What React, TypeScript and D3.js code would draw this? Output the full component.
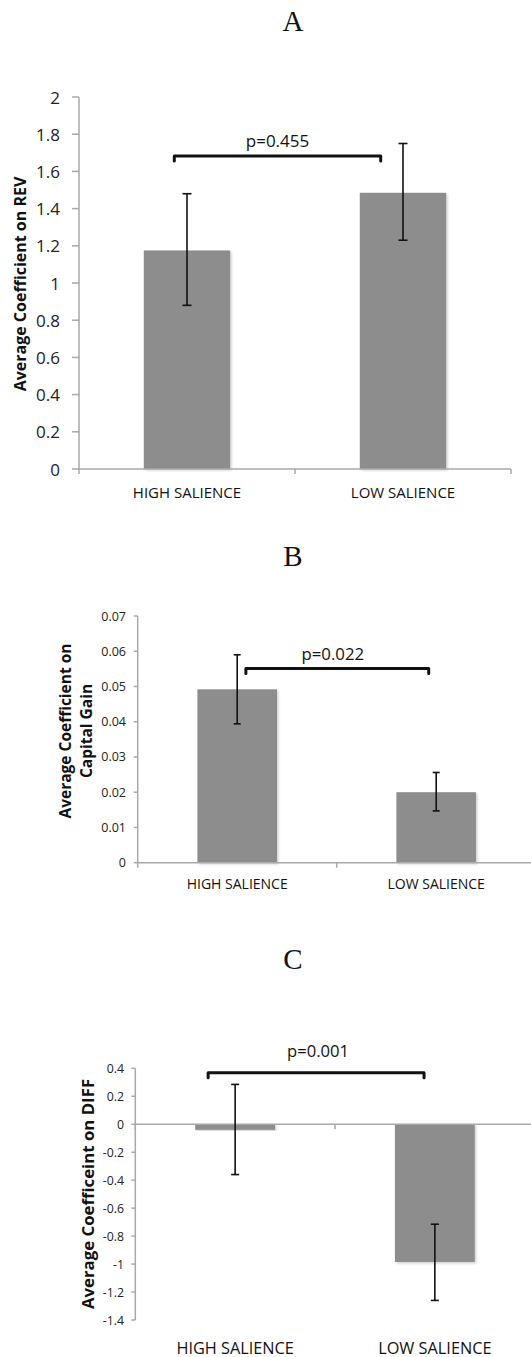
import * as d3 from 'd3';

// ── Data ──────────────────────────────────────────────────────────────────────
const CATEGORIES = ['HIGH SALIENCE', 'LOW SALIENCE'];

// Panel A: coefficient on REV
const REV_MEAN     = [1.175, 1.485];
const REV_ERR_LOW  = [0.88, 1.23];
const REV_ERR_HIGH = [1.48, 1.75];
const REV_TICKS    = [0, 0.2, 0.4, 0.6, 0.8, 1, 1.2, 1.4, 1.6, 1.8, 2];

// Panel B: coefficient on capital gain
const CG_MEAN      = [0.0492, 0.0200];
const CG_ERR_LOW   = [0.0394, 0.0147];
const CG_ERR_HIGH  = [0.0590, 0.0256];
const CG_TICKS     = [0, 0.01, 0.02, 0.03, 0.04, 0.05, 0.06, 0.07];

// Panel C: coefficient on DIFF
const DIFF_MEAN     = [-0.04, -0.985];
const DIFF_ERR_LOW  = [-0.36, -1.26];
const DIFF_ERR_HIGH = [0.285, -0.715];
const DIFF_TICKS    = [-1.4, -1.2, -1, -0.8, -0.6, -0.4, -0.2, 0, 0.2, 0.4];

const P_LABELS      = ['p=0.455', 'p=0.022', 'p=0.001'];
const BRACKET_LEVEL = [1.683, 0.0551, 0.369];

// ── Colors / fonts ────────────────────────────────────────────────────────────
const BAR   = '#8d8d8d';
const AXIS  = '#a9a9a9';
const INK   = '#111';
const SANS  = '"Open Sans", "DejaVu Sans", sans-serif';
const SERIF = '"Liberation Serif", "Times New Roman", serif';

const W = 531;
const H = 1357;

type PanelCfg = {
  title: string; titleY: number;
  mean: number[]; lo: number[]; hi: number[]; ticks: number[];
  yLabel: string[]; yLabelX: number[]; yLabelCY: number; yLabelSize: number;
  x0: number; x1: number; yTop: number; yBot: number;
  tickSize: number; tickLen: number; tickLabelX: number;
  catSize: number; catY: number;
  cap: number;
  p: string; pSize: number; pY: number; pDx: number;
  bracketLevel: number; bracketDx: [number, number];
};

const PANELS: PanelCfg[] = [
  {
    title: 'A', titleY: 30.5,
    mean: REV_MEAN, lo: REV_ERR_LOW, hi: REV_ERR_HIGH, ticks: REV_TICKS,
    yLabel: ['Average Coefficient on REV'], yLabelX: [25.5], yLabelCY: 284, yLabelSize: 16,
    x0: 79, x1: 511, yTop: 97, yBot: 469,
    tickSize: 17, tickLen: 7, tickLabelX: 60,
    catSize: 15, catY: 498,
    cap: 9,
    p: P_LABELS[0], pSize: 17, pY: 147, pDx: 0,
    bracketLevel: BRACKET_LEVEL[0], bracketDx: [-12.7, -22.3],
  },
  {
    title: 'B', titleY: 566,
    mean: CG_MEAN, lo: CG_ERR_LOW, hi: CG_ERR_HIGH, ticks: CG_TICKS,
    yLabel: ['Average Coefficient on', 'Capital Gain'], yLabelX: [71, 92], yLabelCY: 731, yLabelSize: 15.5,
    x0: 137.7, x1: 535.7, yTop: 616, yBot: 862.7,
    tickSize: 12.5, tickLen: 4, tickLabelX: 126,
    catSize: 14, catY: 889,
    cap: 7,
    p: P_LABELS[1], pSize: 16.8, pY: 660, pDx: -4.5,
    bracketLevel: BRACKET_LEVEL[1], bracketDx: [8.7, -7.5],
  },
  {
    title: 'C', titleY: 969,
    mean: DIFF_MEAN, lo: DIFF_ERR_LOW, hi: DIFF_ERR_HIGH, ticks: DIFF_TICKS,
    yLabel: ['Average Coefficeint on DIFF'], yLabelX: [93.5], yLabelCY: 1194, yLabelSize: 16.8,
    x0: 135.3, x1: 534.7, yTop: 1068.3, yBot: 1320,
    tickSize: 12.3, tickLen: 4, tickLabelX: 124,
    catSize: 16.3, catY: 1353.5,
    cap: 8,
    p: P_LABELS[2], pSize: 16.6, pY: 1057.3, pDx: 2,
    bracketLevel: BRACKET_LEVEL[2], bracketDx: [-27, -10.8],
  },
];

function Panel({ cfg }: { cfg: PanelCfg }) {
  const tMin = d3.min(cfg.ticks) as number;
  const tMax = d3.max(cfg.ticks) as number;
  const y = d3.scaleLinear().domain([tMin, tMax]).range([cfg.yBot, cfg.yTop]);
  const x = d3.scaleBand<string>().domain(CATEGORIES).range([cfg.x0, cfg.x1]).padding(0);
  const slot = x.bandwidth();
  const bw = slot * 0.4;
  const cx = (c: string) => (x(c) ?? 0) + slot / 2;
  const y0 = y(0);

  const bL = cx(CATEGORIES[0]) + cfg.bracketDx[0];
  const bR = cx(CATEGORIES[1]) + cfg.bracketDx[1];
  const bY = y(cfg.bracketLevel);

  return (
    <g>
      {/* Panel letter */}
      <text x={293} y={cfg.titleY} textAnchor="middle" fontFamily={SERIF} fontSize={29} fill={INK}>
        {cfg.title}
      </text>

      {/* Bars */}
      {CATEGORIES.map((c, i) => {
        const yv = y(cfg.mean[i]);
        return (
          <rect
            key={c}
            x={cx(c) - bw / 2} y={Math.min(yv, y0)}
            width={bw} height={Math.abs(yv - y0)}
            fill={BAR} filter="url(#barShadow)"
          />
        );
      })}

      {/* Y axis */}
      <line x1={cfg.x0} x2={cfg.x0} y1={y(tMax)} y2={y(tMin)} stroke={AXIS} strokeWidth={1.5} />
      {cfg.ticks.map(t => (
        <g key={t}>
          <line x1={cfg.x0 - cfg.tickLen} x2={cfg.x0} y1={y(t)} y2={y(t)} stroke={AXIS} strokeWidth={1.5} />
          <text
            x={cfg.tickLabelX} y={y(t)}
            textAnchor="end" dominantBaseline="central"
            fontFamily={SANS} fontSize={cfg.tickSize} fill="#222"
          >
            {String(t)}
          </text>
        </g>
      ))}

      {/* X axis at zero */}
      <line x1={cfg.x0} x2={cfg.x1} y1={y0} y2={y0} stroke={AXIS} strokeWidth={1.5} />
      {[cfg.x0, cfg.x0 + slot, cfg.x1].map((tx, i) => (
        <line key={i} x1={tx} x2={tx} y1={y0} y2={y0 + 5} stroke={AXIS} strokeWidth={1.5} />
      ))}

      {/* Category labels */}
      {CATEGORIES.map(c => (
        <text
          key={c} x={cx(c)} y={cfg.catY}
          textAnchor="middle" fontFamily={SANS} fontSize={cfg.catSize} fill="#111"
        >
          {c}
        </text>
      ))}

      {/* Error bars */}
      {CATEGORIES.map((c, i) => {
        const ex = cx(c);
        const yl = y(cfg.lo[i]);
        const yh = y(cfg.hi[i]);
        return (
          <g key={c} stroke={INK} strokeWidth={1.6}>
            <line x1={ex} x2={ex} y1={yh} y2={yl} />
            <line x1={ex - cfg.cap / 2} x2={ex + cfg.cap / 2} y1={yh} y2={yh} />
            <line x1={ex - cfg.cap / 2} x2={ex + cfg.cap / 2} y1={yl} y2={yl} />
          </g>
        );
      })}

      {/* Significance bracket */}
      <path
        d={`M${bL},${bY + 5} L${bL},${bY} L${bR},${bY} L${bR},${bY + 5}`}
        fill="none" stroke={INK} strokeWidth={3} strokeLinejoin="round" strokeLinecap="round"
      />
      <text
        x={(bL + bR) / 2 + cfg.pDx} y={cfg.pY}
        textAnchor="middle" fontFamily={SANS} fontSize={cfg.pSize} fill={INK}
      >
        {cfg.p}
      </text>

      {/* Y axis title */}
      {cfg.yLabel.map((line, i) => (
        <text
          key={i}
          transform={`translate(${cfg.yLabelX[i]},${cfg.yLabelCY}) rotate(-90)`}
          textAnchor="middle" fontFamily={SANS} fontWeight={700}
          fontSize={cfg.yLabelSize} fill={INK}
        >
          {line}
        </text>
      ))}
    </g>
  );
}

export default function App() {
  return (
    <svg
      width={W} height={H} viewBox={`0 0 ${W} ${H}`}
      style={{ position: 'absolute', left: 0, top: 0, display: 'block', background: '#fff' }}
    >
      <defs>
        <filter id="barShadow" x="-10%" y="-10%" width="130%" height="130%">
          <feDropShadow dx={1.5} dy={1.5} stdDeviation={1.2} floodColor="#000" floodOpacity={0.18} />
        </filter>
      </defs>
      <rect x={0} y={0} width={W} height={H} fill="#fff" />
      {PANELS.map(p => <Panel key={p.title} cfg={p} />)}
    </svg>
  );
}
